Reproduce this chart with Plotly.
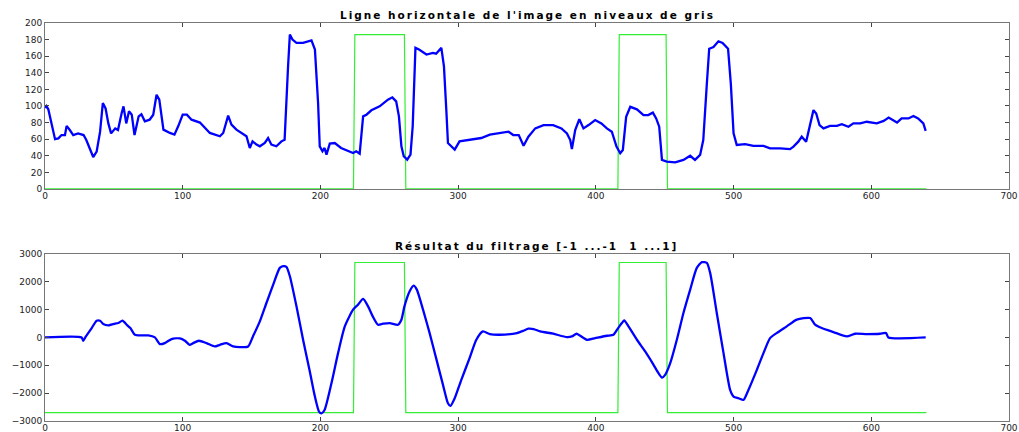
import plotly.graph_objects as go

# ---- Top: grey-level horizontal line ----
line_x = [0, 1, 2.4, 6, 7.3, 9.7, 12, 14.5, 15.7, 18, 20.5, 24, 28, 30, 32.6, 35, 37.5, 40, 42, 44, 46, 48,
          51, 53, 55.6, 57, 59, 61, 63, 65, 68, 70, 72.5, 76, 78.6, 81, 83, 86, 90.7, 94, 96.7, 100, 103,
          106.4, 112.5, 116, 119.7, 127, 129.4, 133, 135.4, 139, 143.9, 146.3, 148.7, 150.7, 153.6, 156,
          159.6, 162, 164.4, 168, 171.7, 174, 176.5, 177.8, 179.7, 182.6, 187.4, 193.5, 196, 198.3, 199.5,
          201.5, 203, 204.4, 206.8, 210.4, 215, 220, 223.7, 226, 228.5, 231, 233.4, 237, 243, 249, 252.2,
          255, 257, 258.8, 260.5, 263, 265.4, 267, 269, 271.6, 277, 281.7, 284, 287.8, 289.7, 291.4, 292.6,
          295, 297.5, 301, 305.9, 310.8, 316.8, 323, 330, 336.6, 340, 344, 347.5, 351, 356, 362, 369, 375,
          379, 381.4, 382.6, 385, 388, 391, 394.7, 399.5, 404, 408, 411.6, 415, 417.7, 419.6, 422, 425,
          429.8, 434.6, 438, 441.4, 443.8, 446, 448, 451.5, 457.6, 463.6, 468.5, 472, 475.7, 478, 480.6,
          482.3, 485.4, 489, 492, 496, 498, 500, 502.3, 508.4, 514.4, 521.7, 526.5, 533.8, 541, 543.5, 547,
          549.5, 552.7, 555, 558, 560, 562.4, 565.3, 570, 575, 578.6, 583.4, 587, 592, 596.7, 604, 609,
          612.6, 616, 618.7, 622, 627, 630.6, 634, 637.8, 639.5]
line_y = [98, 100, 96, 67, 60, 61, 65, 65, 76, 71, 65, 67, 65, 59, 47, 38.5, 45, 69, 103.6, 97, 79, 67,
          73, 71, 91, 99.6, 79, 93.6, 89.5, 65, 87.5, 90, 81.5, 83.5, 89.5, 113.6, 107.6, 71.5, 67.5, 65.5,
          75.5, 89.5, 89.5, 83.5, 80, 73.5, 67.5, 63.5, 67.5, 88.4, 77.5, 71.5, 65.5, 63.5, 49.4, 57.4,
          53.4, 51.4, 55.4, 61.4, 53.4, 51.4, 57.4, 59.4, 147.8, 186, 180, 176, 176, 179, 168, 103.6,
          51.4, 45.4, 49.4, 41.4, 54.6, 55.4, 49.4, 45.4, 43.4, 45.4, 42.6, 87.5, 89.5, 94.8, 99.6, 107.6,
          110.4, 105.6, 87.5, 51.4, 39.4, 35.3, 41.4, 75.5, 170, 168, 162, 164, 163, 170, 147.8, 95.6,
          55.4, 51.4, 47.4, 57.4, 58.6, 59.4, 61.4, 65.5, 67.5, 69, 65, 65, 52, 63, 73, 77, 77, 73, 67,
          59, 48, 71, 84, 73, 77, 83, 79, 73, 69, 51, 43, 47, 87, 99, 96, 89, 89, 92, 85, 75, 35, 33, 32,
          35, 40, 35, 41, 59, 127, 169, 171, 178, 176, 169, 127, 67, 53, 54, 52, 52, 49, 49, 48, 51, 57,
          63, 57, 75, 95, 91, 77, 73, 76, 76, 78, 75, 79, 79, 81, 79, 82, 86, 83, 80, 85, 85, 88, 85, 79,
          70]

# ---- Bottom: filtering result ----
filt_x = [0, 26.6, 27.8, 29.7, 33.9, 37.5, 40, 42.3, 46, 50.8, 53.2, 56.3, 59.3, 62, 65.3, 70, 75, 79.8,
          83.4, 87, 91.9, 98, 101.6, 105, 107.6, 111.7, 117.3, 123.3, 127, 131.8, 136.6, 141.5, 147.5,
          151, 156, 160.8, 165.7, 170.5, 173, 175.3, 177.8, 182.6, 187.4, 192.3, 196, 199, 200.7, 203,
          208, 212.8, 217.7, 223.7, 227.3, 231, 234.6, 238, 241.8, 245.5, 250.3, 256.3, 258.8, 261,
          264.8, 267.7, 270, 274.5, 279.3, 284, 289, 292.6, 294.4, 297.5, 302.3, 308.3, 313.2, 318, 323,
          330, 342.7, 347.5, 351, 354.8, 359.6, 369, 379, 382.6, 386, 388.6, 393.5, 399.5, 408, 412.8,
          415.7, 418.9, 420.6, 423.7, 429.8, 435.8, 441.9, 445.5, 448, 450.3, 454, 458.8, 463.6, 468.5,
          473.3, 477, 480.6, 483, 487.8, 492.7, 497.5, 500, 503.6, 507.2, 510.8, 516.9, 521.7, 526.5,
          531.3, 538.6, 545.9, 555.6, 559.2, 564, 572.5, 582.2, 588.2, 596.7, 606.4, 610.7, 612.4, 639.5]
filt_y = [0, 0, -120, 36, 336, 600, 600, 480, 432, 492, 516, 600, 456, 336, 96, 72, 72, 0, -240, -204,
          -60, -36, -120, -264, -204, -120, -204, -324, -264, -204, -324, -348, -324, 36, 576, 1236, 1896,
          2496, 2556, 2532, 2196, 1116, -84, -1224, -2124, -2664, -2724, -2604, -1644, -564, 396, 996,
          1176, 1380, 1116, 756, 456, 492, 516, 456, 636, 1116, 1656, 1860, 1716, 996, 156, -744, -1704,
          -2364, -2460, -2184, -1524, -744, -84, 216, 120, 96, 156, 240, 312, 300, 216, 132, 12, 36, 132,
          60, -84, -24, 60, 96, 300, 516, 612, 396, -84, -504, -984, -1284, -1440, -1344, -924, -84, 876,
          1716, 2496, 2700, 2676, 2316, 876, -564, -1884, -2124, -2184, -2244, -1884, -1164, -564, -24,
          156, 396, 636, 696, 456, 336, 192, 36, 132, 120, 132, 156, 0, 0]

# ---- Green detection mask (two windows) ----
mask_x = [0, 224, 225, 261, 262, 416, 417, 451, 452, 640]
mask_top = [0, 0, 186, 186, 0, 0, 186, 186, 0, 0]
mask_bottom = [-2700, -2700, 2690, 2690, -2700, -2700, 2690, 2690, -2700, -2700]

title_top = "Ligne horizontale de l'image en niveaux de gris"
title_bottom = "Résultat du filtrage [-1 ...-1  1 ...1]"

BLUE = "#0000ff"
GREEN = "#33ee33"

fig = go.Figure()
fig.add_trace(go.Scatter(x=mask_x, y=mask_top, mode="lines", line=dict(color=GREEN, width=1.2),
                         xaxis="x", yaxis="y", showlegend=False))
fig.add_trace(go.Scatter(x=line_x, y=line_y, mode="lines", line=dict(color=BLUE, width=2.3),
                         xaxis="x", yaxis="y", showlegend=False))
fig.add_trace(go.Scatter(x=mask_x, y=mask_bottom, mode="lines", line=dict(color=GREEN, width=1.2),
                         xaxis="x2", yaxis="y2", showlegend=False))
fig.add_trace(go.Scatter(x=filt_x, y=filt_y, mode="lines", line=dict(color=BLUE, width=2.3, shape="spline", smoothing=0.6),
                         xaxis="x2", yaxis="y2", showlegend=False))

tickfont = dict(family="DejaVu Sans, sans-serif", size=9, color="#222")
axcommon = dict(showgrid=False, zeroline=False, showline=True, linecolor="#777", linewidth=1,
                mirror="ticks", ticks="inside", ticklen=4, tickcolor="#444", tickwidth=1,
                tickfont=tickfont, automargin=False, ticklabeloverflow="allow")

title_font = dict(family="DejaVu Sans, sans-serif", size=10.5, color="black")
sp = '<span style="letter-spacing:2px">'

fig.update_layout(
    width=1019, height=432,
    margin=dict(l=45, r=10, t=23, b=11),
    paper_bgcolor="white", plot_bgcolor="white",
    xaxis=dict(domain=[0, 1], range=[0, 700], dtick=100, anchor="y", ticklabelstandoff=-2, **axcommon),
    yaxis=dict(domain=[0.583, 1], range=[0, 200], dtick=20, anchor="x", **axcommon),
    xaxis2=dict(domain=[0, 1], range=[0, 700], dtick=100, anchor="y2", ticklabelstandoff=-2, **axcommon),
    yaxis2=dict(domain=[0, 0.42], range=[-3000, 3000], dtick=1000, anchor="x2", **axcommon),
    annotations=[
        dict(text=sp + "<b>" + title_top + "</b></span>", xref="paper", yref="paper", x=0.5, y=1, yshift=8,
             xanchor="center", yanchor="middle", showarrow=False, font=title_font),
        dict(text=sp + "<b>" + title_bottom + "</b></span>", xref="paper", yref="paper", x=0.51, y=0.42, yshift=8,
             xanchor="center", yanchor="middle", showarrow=False, font=title_font),
    ],
)

# Remove the default 8px page margin so the figure fills the 1019x432 window exactly.
fig.write_html("out.html", config={"displayModeBar": False},
               post_script="document.body.style.margin='0';document.body.style.overflow='hidden';")
